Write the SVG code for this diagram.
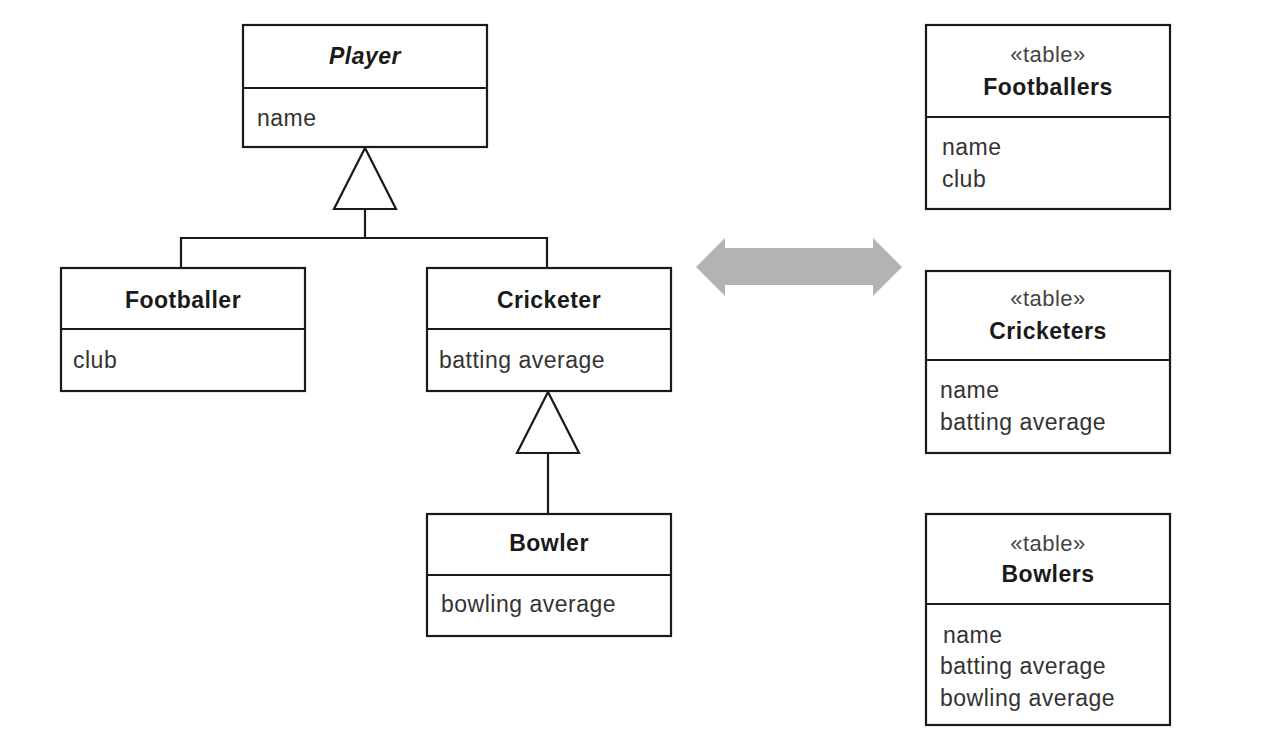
<svg xmlns="http://www.w3.org/2000/svg" width="1284" height="754" viewBox="0 0 1284 754">
<style>
.box{fill:#fff;stroke:#1a1a1a;stroke-width:2.2}
.ln{fill:none;stroke:#1a1a1a;stroke-width:2.2}
.tri{fill:#fff;stroke:#1a1a1a;stroke-width:2.2;stroke-linejoin:miter}
text{font-family:"Liberation Sans",Arial,sans-serif;fill:#1a1a1a;letter-spacing:0.5px}
.t{font-size:23px;font-weight:bold;text-anchor:middle}
.a{font-size:23px;fill:#333}
.s{font-size:22px;text-anchor:middle;fill:#444}
</style>
<rect width="1284" height="754" fill="#fff"/>
<g id="connectors">
<polyline class="ln" points="181,268 181,238 547,238 547,268"/>
<line class="ln" x1="365" y1="238" x2="365" y2="209"/>
<polygon class="tri" points="365,148 334,209 396,209"/>
<line class="ln" x1="548" y1="514" x2="548" y2="453"/>
<polygon class="tri" points="548,392 517,453 579,453"/>
<polygon fill="#b3b3b3" points="696,267 725,238 725,248 873,248 873,238 902,267 873,296 873,285 725,285 725,296"/>
</g>
<g id="player">
<rect class="box" x="243" y="25" width="244" height="122"/>
<line class="ln" x1="243" y1="88" x2="487" y2="88"/>
<text class="t" x="365" y="64" font-style="italic">Player</text>
<text class="a" x="257" y="126">name</text>
</g>
<g id="footballer">
<rect class="box" x="61" y="268" width="244" height="123"/>
<line class="ln" x1="61" y1="329" x2="305" y2="329"/>
<text class="t" x="183" y="308">Footballer</text>
<text class="a" x="73" y="368">club</text>
</g>
<g id="cricketer">
<rect class="box" x="427" y="268" width="244" height="123"/>
<line class="ln" x1="427" y1="329" x2="671" y2="329"/>
<text class="t" x="549" y="308">Cricketer</text>
<text class="a" x="439" y="368">batting average</text>
</g>
<g id="bowler">
<rect class="box" x="427" y="514" width="244" height="122"/>
<line class="ln" x1="427" y1="575" x2="671" y2="575"/>
<text class="t" x="549" y="551">Bowler</text>
<text class="a" x="441" y="612">bowling average</text>
</g>
<g id="footballers-table">
<rect class="box" x="926" y="25" width="244" height="184"/>
<line class="ln" x1="926" y1="117" x2="1170" y2="117"/>
<text class="s" x="1048" y="62">«table»</text>
<text class="t" x="1048" y="95">Footballers</text>
<text class="a" x="942" y="155">name</text>
<text class="a" x="942" y="187">club</text>
</g>
<g id="cricketers-table">
<rect class="box" x="926" y="271" width="244" height="182"/>
<line class="ln" x1="926" y1="360" x2="1170" y2="360"/>
<text class="s" x="1048" y="306">«table»</text>
<text class="t" x="1048" y="339">Cricketers</text>
<text class="a" x="940" y="398">name</text>
<text class="a" x="940" y="430">batting average</text>
</g>
<g id="bowlers-table">
<rect class="box" x="926" y="514" width="244" height="211"/>
<line class="ln" x1="926" y1="604" x2="1170" y2="604"/>
<text class="s" x="1048" y="551">«table»</text>
<text class="t" x="1048" y="582">Bowlers</text>
<text class="a" x="943" y="643">name</text>
<text class="a" x="940" y="674">batting average</text>
<text class="a" x="940" y="706">bowling average</text>
</g>
</svg>
